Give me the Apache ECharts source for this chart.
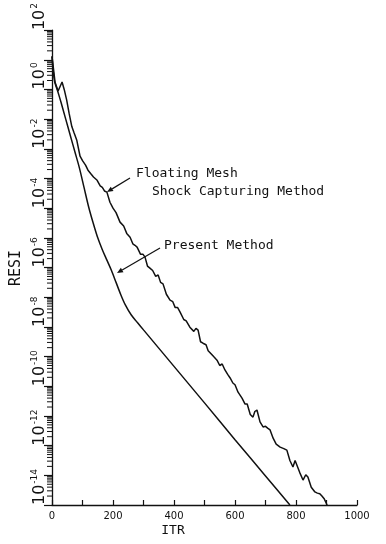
<!DOCTYPE html>
<html><head><meta charset="utf-8">
<script src="https://cdn.jsdelivr.net/npm/echarts@6/dist/echarts.min.js"></script>
<style>html,body{margin:0;padding:0;background:#fff}#c{width:386px;height:544px}</style>
</head><body><div id="c"></div>
<script>
// Iteration (ITR) and log10(RESI)
const itrFloating = [0,10,20,33,40,48,56,65,72,81,92,100,110,118,128,136,148,158,165,172,180,190,200,210,216,223,235,245,256,265,272,279,290,298,305,313,321,330,340,348,356,364,375,387,396,404,412,420,432,440,452,465,472,479,487,495,505,512,518,530,541,550,558,567,576,584,593,600,610,615,623,633,640,650,659,665,672,682,692,700,708,715,725,735,748,760,770,780,790,797,803,812,823,832,839,850,862,870,878,885,893,902];
const expFloating = [1.12,0.24,-0.05,0.25,0.0,-0.35,-0.8,-1.25,-1.45,-1.7,-2.25,-2.4,-2.55,-2.72,-2.85,-2.95,-3.06,-3.25,-3.3,-3.42,-3.46,-3.8,-4.0,-4.15,-4.2,-4.47,-4.6,-4.85,-4.98,-5.2,-5.25,-5.31,-5.55,-5.55,-5.65,-5.95,-6.02,-6.1,-6.3,-6.25,-6.5,-6.55,-6.9,-7.1,-7.15,-7.35,-7.35,-7.5,-7.75,-7.8,-8.01,-8.15,-8.05,-8.11,-8.5,-8.55,-8.6,-8.8,-8.78,-9.0,-9.12,-9.3,-9.25,-9.45,-9.6,-9.72,-9.89,-9.95,-10.2,-10.15,-10.4,-10.6,-10.6,-10.95,-11.04,-10.85,-10.8,-11.2,-11.37,-11.35,-11.42,-11.47,-11.75,-11.95,-12.05,-12.1,-12.15,-12.5,-12.72,-12.5,-12.55,-12.9,-13.16,-12.98,-13.06,-13.4,-13.56,-13.6,-13.62,-13.7,-13.8,-14.0];
const itrPresent = [0,8,20,30,45,60,75,90,105,120,135,150,165,180,195,210,225,240,260,280,300,400,500,600,700,780];
const expPresent = [1.1,0.3,-0.1,-0.45,-1.0,-1.55,-2.1,-2.65,-3.3,-3.95,-4.5,-5.0,-5.4,-5.75,-6.1,-6.5,-6.9,-7.25,-7.6,-7.85,-8.1,-9.33,-10.56,-11.8,-13.02,-14.0];
const xTickLabels = ['0','200','400','600','800','1000'];
const yExponentLabels = [-14,-12,-10,-8,-6,-4,-2,0,2];
const seriesNames = ['Floating Mesh Shock Capturing Method','Present Method'];

const toPairs = (xs, es) => xs.map((x, i) => [x, Math.pow(10, es[i])]);
const minorVals = [];
for (let e = -14; e < 2; e++) for (let k = 2; k <= 9; k++) minorVals.push([0, k * Math.pow(10, e)]);

const INK = '#111';
const chart = echarts.init(document.getElementById('c'), null, {renderer: 'canvas'});

function arrow(x1, y1, x2, y2) {
  const dx = x2 - x1, dy = y2 - y1, L = Math.hypot(dx, dy);
  const ux = dx / L, uy = dy / L, nx = -uy, ny = ux;
  const h = 6, w = 2.6;
  const bx = x2 - h * ux, by = y2 - h * uy;
  return [
    {type: 'line', shape: {x1, y1, x2: bx, y2: by}, style: {stroke: INK, lineWidth: 1.2}},
    {type: 'polygon', shape: {points: [[x2, y2], [bx + w * nx, by + w * ny], [bx - w * nx, by - w * ny]]}, style: {fill: INK}}
  ];
}
const annFont = '13px "DejaVu Sans Mono"';

chart.setOption({
  animation: false,
  backgroundColor: '#fff',
  grid: {left: 52, right: 29, top: 30, bottom: 39, containLabel: false},
  xAxis: {
    type: 'value', min: 0, max: 1000, interval: 100,
    axisLine: {lineStyle: {color: INK, width: 1.3}},
    axisTick: {inside: true, length: 5, lineStyle: {color: INK, width: 1.2}},
    splitLine: {show: false},
    axisLabel: {
      margin: 6, color: INK, fontSize: 10, fontFamily: 'DejaVu Sans',
      formatter: v => (v % 200 === 0 ? xTickLabels[v / 200] : '')
    }
  },
  yAxis: {
    type: 'log', logBase: 10, min: 1e-14, max: 1e2, interval: 1,
    axisLine: {lineStyle: {color: INK, width: 1.3}},
    axisTick: {inside: false, length: 8, lineStyle: {color: INK, width: 1.2}},
    splitLine: {show: false},
    axisLabel: {
      rotate: 90, margin: 3, align: 'left', verticalAlign: 'bottom',
      color: INK, fontFamily: 'DejaVu Sans',
      formatter: v => {
        const e = Math.round(Math.log10(v));
        if (yExponentLabels.indexOf(e) < 0) return '';
        return '{b|10}{s|' + e + '}';
      },
      rich: {
        b: {fontSize: 16, color: INK, fontFamily: 'DejaVu Sans'},
        s: {fontSize: 9, color: INK, fontFamily: 'DejaVu Sans', padding: [0, 0, 10, 1]}
      }
    }
  },
  series: [
    {
      name: seriesNames[0], type: 'line', data: toPairs(itrFloating, expFloating),
      showSymbol: false, symbol: 'none', smooth: false,
      lineStyle: {color: INK, width: 1.5}
    },
    {
      name: seriesNames[1], type: 'line', data: toPairs(itrPresent, expPresent),
      showSymbol: false, symbol: 'none', smooth: 0.3,
      lineStyle: {color: INK, width: 1.5}
    },
    {
      type: 'custom', data: minorVals, clip: false, silent: true, z: 3,
      renderItem: (params, api) => {
        const p = api.coord([0, api.value(1)]);
        return {type: 'line', shape: {x1: p[0] - 5, y1: p[1], x2: p[0], y2: p[1]}, style: {stroke: INK, lineWidth: 1}};
      }
    }
  ],
  graphic: [
    {type: 'text', x: 16, y: 268, rotation: Math.PI / 2,
      style: {text: 'RESI', font: '15px "DejaVu Sans Mono"', fill: INK, align: 'center', verticalAlign: 'middle'}},
    {type: 'text', x: 173, y: 531,
      style: {text: 'ITR', font: '13px "DejaVu Sans Mono"', fill: INK, align: 'center', verticalAlign: 'middle'}},
    {type: 'text', x: 136, y: 174, style: {text: 'Floating Mesh', font: annFont, fill: INK, align: 'left', verticalAlign: 'middle'}},
    {type: 'text', x: 152, y: 192, style: {text: 'Shock Capturing Method', font: annFont, fill: INK, align: 'left', verticalAlign: 'middle'}},
    {type: 'text', x: 164, y: 246, style: {text: 'Present Method', font: annFont, fill: INK, align: 'left', verticalAlign: 'middle'}},
    ...arrow(130, 178, 107, 192),
    ...arrow(160, 248, 117, 273)
  ]
});
</script>
</body></html>
